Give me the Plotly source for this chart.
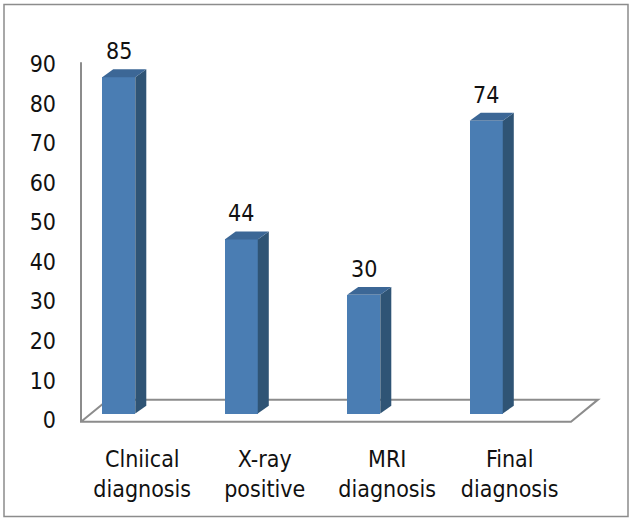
import plotly.graph_objects as go

# Values shown in the chart
categories = ["Clniical diagnosis", "X-ray positive", "MRI diagnosis", "Final diagnosis"]
values = [85, 44, 30, 74]
y_ticks = [0, 10, 20, 30, 40, 50, 60, 70, 80, 90]

FONT = "DejaVu Sans Condensed, Liberation Sans Narrow, Arial Narrow, sans-serif"
FSIZE = 23
FRONT = "#4a7db3"
SIDE = "#2f5475"
TOP = "#3c6796"
GRID = "#8c8c8c"

# axis ranges
X_MIN, X_MAX = -0.5, len(categories) - 0.5
Y_MIN, Y_MAX = -2, 92

# bar geometry (in axis units)
BAR_W = 0.27
BAR_OFF = -0.327
BASE = 1.64          # bars sit a little back on the floor
DX, DY = 0.09, 2.0   # depth of each column
FLOOR_FRONT = -0.4
FLOOR_BACK = 5.17
FLOOR_DX = 0.22
AXIS_TOP = 90.4


def px(x):
    """axis x -> paper fraction (so outlines are not clipped by the plot area)"""
    return (x - X_MIN) / (X_MAX - X_MIN)


def py(y):
    return (y - Y_MIN) / (Y_MAX - Y_MIN)


xs = list(range(len(categories)))

fig = go.Figure()

# front faces
fig.add_trace(go.Bar(
    x=xs, y=values, base=BASE, width=BAR_W, offset=BAR_OFF,
    marker=dict(color=FRONT, line=dict(width=0)),
    hoverinfo="skip", showlegend=False,
))

# side and top faces for the 3-D look
for i, v in enumerate(values):
    x0 = i + BAR_OFF
    x1 = x0 + BAR_W
    b = BASE
    t = BASE + v
    fig.add_trace(go.Scatter(
        x=[x1, x1 + DX, x1 + DX, x1, x1], y=[b, b + DY, t + DY, t, b],
        fill="toself", fillcolor=SIDE, mode="lines", line=dict(width=0, color=SIDE),
        hoverinfo="skip", showlegend=False,
    ))
    fig.add_trace(go.Scatter(
        x=[x0, x0 + DX, x1 + DX, x1, x0], y=[t, t + DY, t + DY, t, t],
        fill="toself", fillcolor=TOP, mode="lines", line=dict(width=0, color=TOP),
        hoverinfo="skip", showlegend=False,
    ))
    fig.add_annotation(
        x=x0 + BAR_W / 2, y=t, yshift=26, text=str(v), showarrow=False,
        font=dict(family=FONT, size=FSIZE, color="#111111"),
        xanchor="center", yanchor="middle",
    )

# floor outline plus the value-axis line (paper coordinates)
outline_path = (
    f"M {px(X_MIN)} {py(AXIS_TOP)} L {px(X_MIN)} {py(FLOOR_FRONT)} "
    f"L {px(X_MAX)} {py(FLOOR_FRONT)} "
    f"L {px(X_MAX + FLOOR_DX)} {py(FLOOR_BACK)} L {px(X_MIN + FLOOR_DX)} {py(FLOOR_BACK)} "
    f"L {px(X_MIN)} {py(FLOOR_FRONT)}"
)
fig.add_shape(type="path", path=outline_path, xref="paper", yref="paper",
              line=dict(color=GRID, width=2), fillcolor="rgba(0,0,0,0)", layer="below")

# chart frame around the whole figure
L, R, T, B = 81, 61, 55.6, 91.6
W, H = 632 - L - R, 520 - T - B
fig.add_shape(type="rect", xref="paper", yref="paper",
              x0=-(L - 4) / W, x1=1 + (R - 4) / W,
              y0=-(B - 3) / H, y1=1 + (T - 4) / H,
              line=dict(color="#8c8c8c", width=1.5))

fig.update_layout(
    width=632, height=520,
    margin=dict(l=L, r=R, t=T, b=B),
    plot_bgcolor="rgba(0,0,0,0)", paper_bgcolor="white",
    bargap=0,
    xaxis=dict(
        range=[X_MIN, X_MAX], tickvals=xs,
        ticktext=[c.replace(" ", "<br>") for c in categories],
        showgrid=False, zeroline=False, showline=False, ticks="",
        ticklabelstandoff=15,
        tickfont=dict(family=FONT, size=FSIZE, color="#111111"),
    ),
    yaxis=dict(
        range=[Y_MIN, Y_MAX], tickvals=y_ticks,
        showgrid=False, zeroline=False, showline=False, ticks="",
        ticklabelstandoff=24,
        tickfont=dict(family=FONT, size=FSIZE, color="#111111"),
    ),
)

fig.write_html("out.html")
